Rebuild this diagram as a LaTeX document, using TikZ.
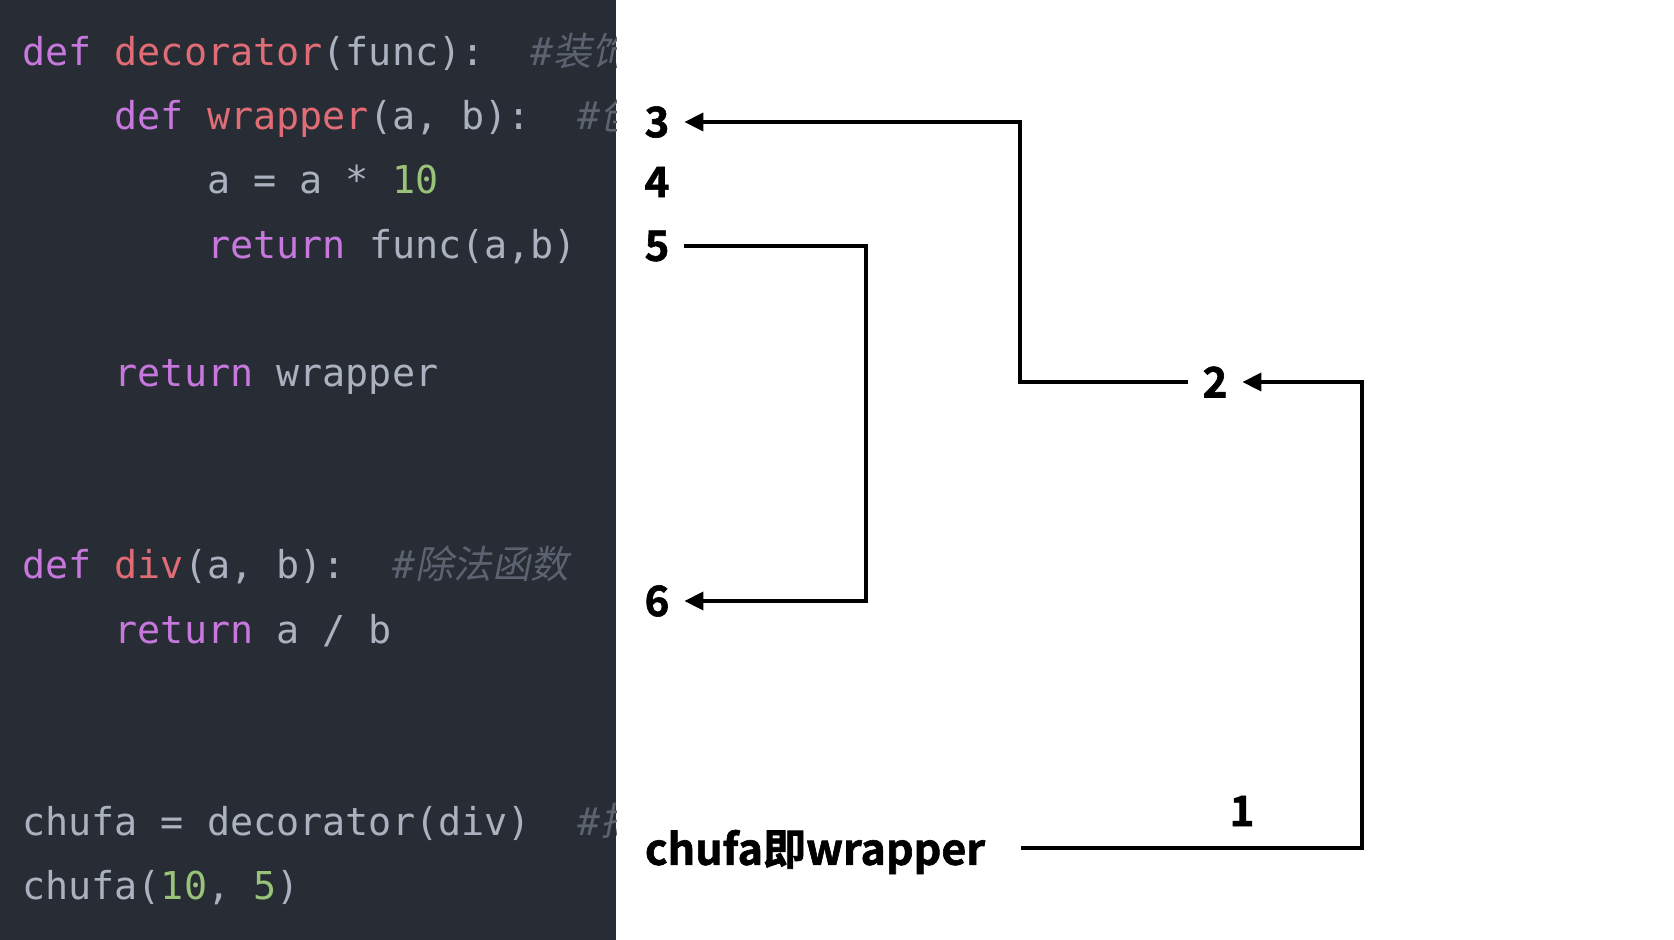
\documentclass[tikz,border=0pt]{standalone}
\usepackage{fontspec}
\usetikzlibrary{arrows.meta}
\newfontfamily\codefont{DejaVu Sans Mono}
\newfontfamily\cjkit{Noto Sans CJK SC}[FakeSlant=0.2]
\newfontfamily\labfont{Noto Sans CJK SC Bold}[FakeBold=1.5]
\definecolor{panelbg}{HTML}{282C34}
\definecolor{kwc}{HTML}{C678DD}
\definecolor{fnc}{HTML}{E06C75}
\definecolor{txc}{HTML}{ABB2BF}
\definecolor{nmc}{HTML}{98C379}
\definecolor{cmc}{HTML}{5C6370}
\newcommand{\kw}[1]{\textcolor{kwc}{#1}}
\newcommand{\fn}[1]{\textcolor{fnc}{#1}}
\newcommand{\nm}[1]{\textcolor{nmc}{#1}}
\newcommand{\cmt}[2]{\textcolor{cmc}{\itshape #1{\cjkit #2}}}
\tikzset{
  codeline/.style={anchor=base west, inner sep=0pt, text=txc,
    font=\codefont\fontsize{38.4}{40}\selectfont},
  lab/.style={inner sep=0pt, outer xsep=15pt, outer ysep=0pt, text=black,
    font=\labfont\fontsize{42}{44}\selectfont},
  arr/.style={draw=black, line width=3.6pt, -{Triangle[length=19pt,width=18pt]}}
}
\begin{document}
\begin{tikzpicture}[x=1pt,y=-1pt]
\useasboundingbox (0,0) rectangle (1674,940);
\fill[white] (0,0) rectangle (1674,940);
\fill[panelbg] (0,0) rectangle (616,940);
\begin{scope}
\clip (0,0) rectangle (616,940);
\node[codeline] (l1) at (22,65) {\makebox[594pt][l]{\kw{def} \fn{decorator}(func):~~\cmt{\#}{装饰}}};
\node[codeline] (l2) at (114.5,129) {\makebox[501pt][l]{\kw{def} \fn{wrapper}(a, b):~~\cmt{\#}{创}}};
\node[codeline] (l3) at (207,193) {a = a * \nm{10}};
\node[codeline] (l4) at (207,258) {\kw{return} func(a,b)};
\node[codeline] (l5) at (114.5,386) {\kw{return} wrapper};
\node[codeline] (l6) at (22,578) {\kw{def} \fn{div}(a, b):~~\cmt{\#}{除法函数}};
\node[codeline] (l7) at (114.5,643) {\kw{return} a / b};
\node[codeline] (l8) at (22,835) {\makebox[594pt][l]{chufa = decorator(div)~~\cmt{\#}{把}}};
\node[codeline] (l9) at (22,899) {chufa(\nm{10}, \nm{5})};
\end{scope}
\node[lab] (n3) at (657,122) {3};
\node[lab] (n4) at (657,182) {4};
\node[lab] (n5) at (657,246) {5};
\node[lab] (n6) at (657,601) {6};
\node[lab] (n2) at (1215,382) {2};
\node[lab] (n1) at (1242,811) {1};
\node[lab, anchor=west, outer xsep=0pt, font=\labfont\fontsize{43}{45}\selectfont] (chufa) at (645,852) {chufa即wrapper};
\coordinate (k3) at (1020,122);
\coordinate (k5) at (866,246);
\coordinate (k1) at (1362,848);
\coordinate (s1) at (1021,848);
\draw[arr] (s1) -- (k1) |- (n2.east);
\draw[arr] (n2.west) -| (k3) -- (n3.east);
\draw[arr] (n5.east) -- (k5) |- (n6.east);
\end{tikzpicture}
\end{document}
